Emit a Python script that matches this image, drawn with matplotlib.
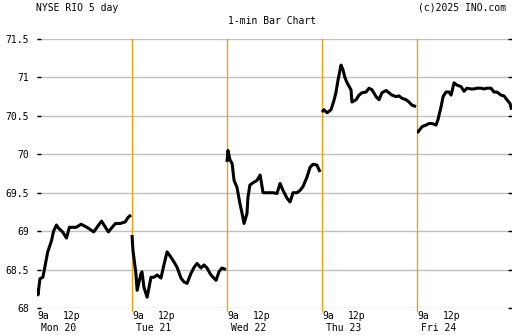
import numpy as np
import matplotlib.pyplot as plt
from matplotlib.transforms import blended_transform_factory

# minutes since each day's 9a open (390 min session) and price
mon_t = [0, 4, 12, 24, 32, 44, 60, 68, 80, 88, 105, 121, 133, 145, 161, 181, 205, 233,
         253, 265, 281, 293, 306, 322, 342, 362, 374, 386]
mon_p = [68.25, 68.17, 68.38, 68.4, 68.53, 68.73, 68.88, 69.0, 69.08, 69.04, 68.99, 68.91,
         69.05, 69.05, 69.05, 69.09, 69.05, 68.99, 69.08, 69.13, 69.05, 68.99, 69.04,
         69.1, 69.1, 69.12, 69.18, 69.21]
tue_t = [0, 4, 16, 21, 37, 41, 49, 62, 78, 90, 103, 119, 131, 144, 160, 172, 185, 201,
         213, 226, 242, 255, 267, 283, 296, 308, 324, 345, 357, 369, 386]
tue_p = [68.95, 68.75, 68.45, 68.23, 68.45, 68.47, 68.27, 68.14, 68.4, 68.4, 68.43, 68.39,
         68.56, 68.73, 68.66, 68.6, 68.53, 68.39, 68.34, 68.32, 68.45, 68.53, 68.58,
         68.52, 68.56, 68.52, 68.43, 68.36, 68.47, 68.52, 68.5]
wed_t = [0, 4, 12, 21, 29, 41, 45, 53, 62, 70, 82, 86, 94, 107, 123, 136, 148, 164, 177,
         189, 205, 218, 230, 246, 259, 271, 287, 300, 312, 328, 341, 353, 369, 382]
wed_p = [69.9, 70.05, 69.93, 69.88, 69.66, 69.57, 69.5, 69.36, 69.23, 69.1, 69.23, 69.44,
         69.6, 69.63, 69.66, 69.73, 69.5, 69.5, 69.5, 69.5, 69.49, 69.62, 69.53, 69.43,
         69.38, 69.5, 69.5, 69.53, 69.58, 69.7, 69.83, 69.87, 69.86, 69.77]
thu_t = [0, 8, 21, 37, 49, 57, 66, 78, 86, 94, 103, 119, 123, 140, 152, 164, 181, 193,
         205, 222, 234, 246, 263, 275, 287, 304, 316, 328, 345, 357, 369, 386]
thu_p = [70.55, 70.58, 70.54, 70.58, 70.7, 70.8, 70.97, 71.16, 71.1, 71.0, 70.93, 70.84,
         70.68, 70.71, 70.77, 70.8, 70.81, 70.86, 70.84, 70.75, 70.71, 70.8, 70.83, 70.8,
         70.77, 70.75, 70.76, 70.73, 70.71, 70.68, 70.64, 70.62]
fri_t = [0, 4, 21, 37, 49, 62, 78, 86, 99, 107, 119, 131, 140, 152, 164, 181, 193, 205,
         222, 234, 246, 263, 275, 287, 304, 316, 328, 345, 357, 369, 382, 388]
fri_p = [70.29, 70.29, 70.36, 70.38, 70.4, 70.4, 70.38, 70.45, 70.62, 70.75, 70.81, 70.81,
         70.77, 70.93, 70.9, 70.88, 70.82, 70.86, 70.85, 70.85, 70.86, 70.86, 70.85,
         70.86, 70.86, 70.81, 70.81, 70.77, 70.76, 70.71, 70.66, 70.58]

days = ['Mon 20', 'Tue 21', 'Wed 22', 'Thu 23', 'Fri 24']
yticks = [68, 68.5, 69, 69.5, 70, 70.5, 71, 71.5]
ylabels = ['68', '68.5', '69', '69.5', '70', '70.5', '71', '71.5']

session = 390
font = 'DejaVu Sans Mono'
plt.rcParams['font.family'] = font

fig = plt.figure(figsize=(5.12, 3.35), dpi=100)
ax = fig.add_axes([37/512, 1 - 308/335, 475/512, 269/335])

for i, (t, p) in enumerate([(mon_t, mon_p), (tue_t, tue_p), (wed_t, wed_p),
                            (thu_t, thu_p), (fri_t, fri_p)]):
    ax.plot(np.array(t) + i*session, p, color='black', lw=2.2, solid_capstyle='butt')

ax.set_xlim(0, 5*session)
ax.set_ylim(68, 71.5)
ax.set_yticks(yticks)
ax.set_yticklabels(ylabels, fontsize=7)
for y in yticks:
    ax.axhline(y, color='#c0c0c0', lw=1, zorder=0)
for i in range(1, 5):
    ax.axvline(i*session, ymin=-0.01, ymax=1, color='#e8a317', lw=1, zorder=1, clip_on=False)

ax.tick_params(axis='y', which='both', direction='in', length=3, width=1, color='black',
               pad=6, left=True, right=True)
ax.set_xticks([])
for s in ax.spines.values():
    s.set_visible(False)

tr = blended_transform_factory(ax.transData, ax.transAxes)
for i, d in enumerate(days):
    x0 = i*session
    ax.text(x0, -0.03, '9a', transform=tr, ha='left', va='center', fontsize=7)
    ax.text(x0 + 107, -0.03, '12p', transform=tr, ha='left', va='center', fontsize=7)
    ax.text(x0 + 18, -0.075, d, transform=tr, ha='left', va='center', fontsize=7)
ax.text(5*session, -0.03, '4p', transform=tr, ha='left', va='center', fontsize=7, clip_on=False)

fig.text(36/512, 1 - 8/335, 'NYSE RIO 5 day', ha='left', va='center', fontsize=7)
fig.text(506/512, 1 - 8/335, '(c)2025 INO.com', ha='right', va='center', fontsize=7)
fig.text(272/512, 1 - 21/335, '1-min Bar Chart', ha='center', va='center', fontsize=7)

fig.savefig('out.png', dpi=100)
